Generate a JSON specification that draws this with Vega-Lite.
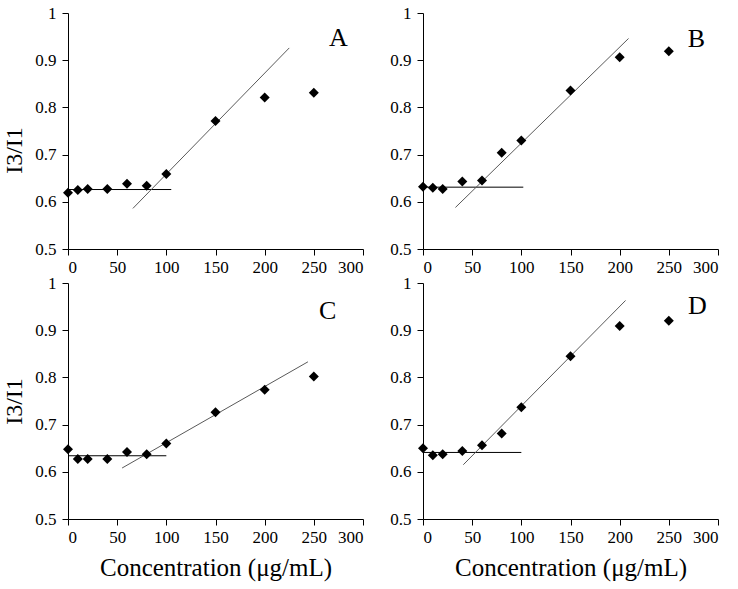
{
  "$schema": "https://vega.github.io/schema/vega-lite/v6.json",
  "padding": {"left": 2, "top": 4, "right": 10, "bottom": 5},
  "background": "white",
  "datasets": {
    "pts": [
      {"panel": "A", "conc": 0, "ratio": 0.619}, {"panel": "A", "conc": 10, "ratio": 0.625}, {"panel": "A", "conc": 20, "ratio": 0.627}, {"panel": "A", "conc": 40, "ratio": 0.627}, {"panel": "A", "conc": 60, "ratio": 0.638}, {"panel": "A", "conc": 80, "ratio": 0.634}, {"panel": "A", "conc": 100, "ratio": 0.659}, {"panel": "A", "conc": 150, "ratio": 0.771}, {"panel": "A", "conc": 200, "ratio": 0.821}, {"panel": "A", "conc": 250, "ratio": 0.831},
      {"panel": "B", "conc": 0, "ratio": 0.632}, {"panel": "B", "conc": 10, "ratio": 0.630}, {"panel": "B", "conc": 20, "ratio": 0.627}, {"panel": "B", "conc": 40, "ratio": 0.643}, {"panel": "B", "conc": 60, "ratio": 0.645}, {"panel": "B", "conc": 80, "ratio": 0.704}, {"panel": "B", "conc": 100, "ratio": 0.730}, {"panel": "B", "conc": 150, "ratio": 0.836}, {"panel": "B", "conc": 200, "ratio": 0.906}, {"panel": "B", "conc": 250, "ratio": 0.919},
      {"panel": "C", "conc": 0, "ratio": 0.648}, {"panel": "C", "conc": 10, "ratio": 0.627}, {"panel": "C", "conc": 20, "ratio": 0.627}, {"panel": "C", "conc": 40, "ratio": 0.627}, {"panel": "C", "conc": 60, "ratio": 0.642}, {"panel": "C", "conc": 80, "ratio": 0.637}, {"panel": "C", "conc": 100, "ratio": 0.660}, {"panel": "C", "conc": 150, "ratio": 0.726}, {"panel": "C", "conc": 200, "ratio": 0.774}, {"panel": "C", "conc": 250, "ratio": 0.802},
      {"panel": "D", "conc": 0, "ratio": 0.650}, {"panel": "D", "conc": 10, "ratio": 0.635}, {"panel": "D", "conc": 20, "ratio": 0.637}, {"panel": "D", "conc": 40, "ratio": 0.644}, {"panel": "D", "conc": 60, "ratio": 0.656}, {"panel": "D", "conc": 80, "ratio": 0.681}, {"panel": "D", "conc": 100, "ratio": 0.737}, {"panel": "D", "conc": 150, "ratio": 0.845}, {"panel": "D", "conc": 200, "ratio": 0.909}, {"panel": "D", "conc": 250, "ratio": 0.920}
    ],
    "lines": [
      {"panel": "A", "seg": "flat", "conc": 0, "ratio": 0.626}, {"panel": "A", "seg": "flat", "conc": 105, "ratio": 0.626},
      {"panel": "A", "seg": "fit", "conc": 66, "ratio": 0.586}, {"panel": "A", "seg": "fit", "conc": 225, "ratio": 0.926},
      {"panel": "B", "seg": "flat", "conc": 0, "ratio": 0.631}, {"panel": "B", "seg": "flat", "conc": 102, "ratio": 0.631},
      {"panel": "B", "seg": "fit", "conc": 33, "ratio": 0.588}, {"panel": "B", "seg": "fit", "conc": 209, "ratio": 0.946},
      {"panel": "C", "seg": "flat", "conc": 0, "ratio": 0.634}, {"panel": "C", "seg": "flat", "conc": 100, "ratio": 0.634},
      {"panel": "C", "seg": "fit", "conc": 55, "ratio": 0.608}, {"panel": "C", "seg": "fit", "conc": 244, "ratio": 0.833},
      {"panel": "D", "seg": "flat", "conc": 0, "ratio": 0.641}, {"panel": "D", "seg": "flat", "conc": 100, "ratio": 0.641},
      {"panel": "D", "seg": "fit", "conc": 41, "ratio": 0.615}, {"panel": "D", "seg": "fit", "conc": 206, "ratio": 0.963}
    ],
    "labels": [
      {"panel": "A", "conc": 275, "ratio": 0.93},
      {"panel": "B", "conc": 278, "ratio": 0.928},
      {"panel": "C", "conc": 264, "ratio": 0.924},
      {"panel": "D", "conc": 279, "ratio": 0.934}
    ]
  },
  "config": {
    "font": "Liberation Serif",
    "view": {"stroke": null},
    "axis": {
      "grid": false,
      "domainColor": "#000000",
      "tickColor": "#000000",
      "labelColor": "#000000",
      "titleColor": "#000000",
      "labelFont": "Liberation Serif",
      "titleFont": "Liberation Serif",
      "labelFontSize": 17,
      "titleFontSize": 24,
      "titleFontWeight": "normal",
      "tickSize": 6
    },
    "axisX": {"labelPadding": 4},
    "axisY": {"labelPadding": 6}
  },
  "columns": 2,
  "spacing": {"row": 34, "column": 60},
  "bounds": "flush",
  "concat": [
    {
      "width": 295, "height": 236,
      "layer": [
        {"data": {"name": "lines"}, "transform": [{"filter": "datum.panel == 'A'"}], "mark": {"type": "line", "strokeWidth": 1},
         "encoding": {"x": {"field": "conc", "type": "quantitative", "scale": {"domain": [0, 300], "nice": false}, "axis": {"values": [0, 50, 100, 150, 200, 250, 300], "title": null}},
                      "y": {"field": "ratio", "type": "quantitative", "scale": {"domain": [0.5, 1], "nice": false, "zero": false}, "axis": {"values": [0.5, 0.6, 0.7, 0.8, 0.9, 1], "format": "~g", "title": "I3/I1", "titlePadding": 8, "titleY": 137}},
                      "detail": {"field": "seg"},
                      "color": {"field": "seg", "type": "nominal", "scale": {"domain": ["flat", "fit"], "range": ["#000000", "#5a5a5a"]}, "legend": null}}},
        {"data": {"name": "pts"}, "transform": [{"filter": "datum.panel == 'A'"}], "mark": {"type": "point", "shape": "diamond", "filled": true, "size": 100, "color": "#000000", "opacity": 1},
         "encoding": {"x": {"field": "conc", "type": "quantitative"}, "y": {"field": "ratio", "type": "quantitative"}}},
        {"data": {"name": "labels"}, "transform": [{"filter": "datum.panel == 'A'"}], "mark": {"type": "text", "fontSize": 26, "font": "Liberation Serif", "align": "center", "baseline": "alphabetic", "color": "#000000"},
         "encoding": {"x": {"field": "conc", "type": "quantitative"}, "y": {"field": "ratio", "type": "quantitative"}, "text": {"field": "panel"}}}
      ]
    },
    {
      "width": 295, "height": 236,
      "layer": [
        {"data": {"name": "lines"}, "transform": [{"filter": "datum.panel == 'B'"}], "mark": {"type": "line", "strokeWidth": 1},
         "encoding": {"x": {"field": "conc", "type": "quantitative", "scale": {"domain": [0, 300], "nice": false}, "axis": {"values": [0, 50, 100, 150, 200, 250, 300], "title": null}},
                      "y": {"field": "ratio", "type": "quantitative", "scale": {"domain": [0.5, 1], "nice": false, "zero": false}, "axis": {"values": [0.5, 0.6, 0.7, 0.8, 0.9, 1], "format": "~g", "title": null}},
                      "detail": {"field": "seg"},
                      "color": {"field": "seg", "type": "nominal", "scale": {"domain": ["flat", "fit"], "range": ["#000000", "#5a5a5a"]}, "legend": null}}},
        {"data": {"name": "pts"}, "transform": [{"filter": "datum.panel == 'B'"}], "mark": {"type": "point", "shape": "diamond", "filled": true, "size": 100, "color": "#000000", "opacity": 1},
         "encoding": {"x": {"field": "conc", "type": "quantitative"}, "y": {"field": "ratio", "type": "quantitative"}}},
        {"data": {"name": "labels"}, "transform": [{"filter": "datum.panel == 'B'"}], "mark": {"type": "text", "fontSize": 26, "font": "Liberation Serif", "align": "center", "baseline": "alphabetic", "color": "#000000"},
         "encoding": {"x": {"field": "conc", "type": "quantitative"}, "y": {"field": "ratio", "type": "quantitative"}, "text": {"field": "panel"}}}
      ]
    },
    {
      "width": 295, "height": 236,
      "layer": [
        {"data": {"name": "lines"}, "transform": [{"filter": "datum.panel == 'C'"}], "mark": {"type": "line", "strokeWidth": 1},
         "encoding": {"x": {"field": "conc", "type": "quantitative", "scale": {"domain": [0, 300], "nice": false}, "axis": {"values": [0, 50, 100, 150, 200, 250, 300], "title": "Concentration (μg/mL)", "titlePadding": 10, "titleFontSize": 25}},
                      "y": {"field": "ratio", "type": "quantitative", "scale": {"domain": [0.5, 1], "nice": false, "zero": false}, "axis": {"values": [0.5, 0.6, 0.7, 0.8, 0.9, 1], "format": "~g", "title": "I3/I1", "titlePadding": 8, "titleY": 118}},
                      "detail": {"field": "seg"},
                      "color": {"field": "seg", "type": "nominal", "scale": {"domain": ["flat", "fit"], "range": ["#000000", "#5a5a5a"]}, "legend": null}}},
        {"data": {"name": "pts"}, "transform": [{"filter": "datum.panel == 'C'"}], "mark": {"type": "point", "shape": "diamond", "filled": true, "size": 100, "color": "#000000", "opacity": 1},
         "encoding": {"x": {"field": "conc", "type": "quantitative"}, "y": {"field": "ratio", "type": "quantitative"}}},
        {"data": {"name": "labels"}, "transform": [{"filter": "datum.panel == 'C'"}], "mark": {"type": "text", "fontSize": 26, "font": "Liberation Serif", "align": "center", "baseline": "alphabetic", "color": "#000000"},
         "encoding": {"x": {"field": "conc", "type": "quantitative"}, "y": {"field": "ratio", "type": "quantitative"}, "text": {"field": "panel"}}}
      ]
    },
    {
      "width": 295, "height": 236,
      "layer": [
        {"data": {"name": "lines"}, "transform": [{"filter": "datum.panel == 'D'"}], "mark": {"type": "line", "strokeWidth": 1},
         "encoding": {"x": {"field": "conc", "type": "quantitative", "scale": {"domain": [0, 300], "nice": false}, "axis": {"values": [0, 50, 100, 150, 200, 250, 300], "title": "Concentration (μg/mL)", "titlePadding": 10, "titleFontSize": 25}},
                      "y": {"field": "ratio", "type": "quantitative", "scale": {"domain": [0.5, 1], "nice": false, "zero": false}, "axis": {"values": [0.5, 0.6, 0.7, 0.8, 0.9, 1], "format": "~g", "title": null}},
                      "detail": {"field": "seg"},
                      "color": {"field": "seg", "type": "nominal", "scale": {"domain": ["flat", "fit"], "range": ["#000000", "#5a5a5a"]}, "legend": null}}},
        {"data": {"name": "pts"}, "transform": [{"filter": "datum.panel == 'D'"}], "mark": {"type": "point", "shape": "diamond", "filled": true, "size": 100, "color": "#000000", "opacity": 1},
         "encoding": {"x": {"field": "conc", "type": "quantitative"}, "y": {"field": "ratio", "type": "quantitative"}}},
        {"data": {"name": "labels"}, "transform": [{"filter": "datum.panel == 'D'"}], "mark": {"type": "text", "fontSize": 26, "font": "Liberation Serif", "align": "center", "baseline": "alphabetic", "color": "#000000"},
         "encoding": {"x": {"field": "conc", "type": "quantitative"}, "y": {"field": "ratio", "type": "quantitative"}, "text": {"field": "panel"}}}
      ]
    }
  ]
}
